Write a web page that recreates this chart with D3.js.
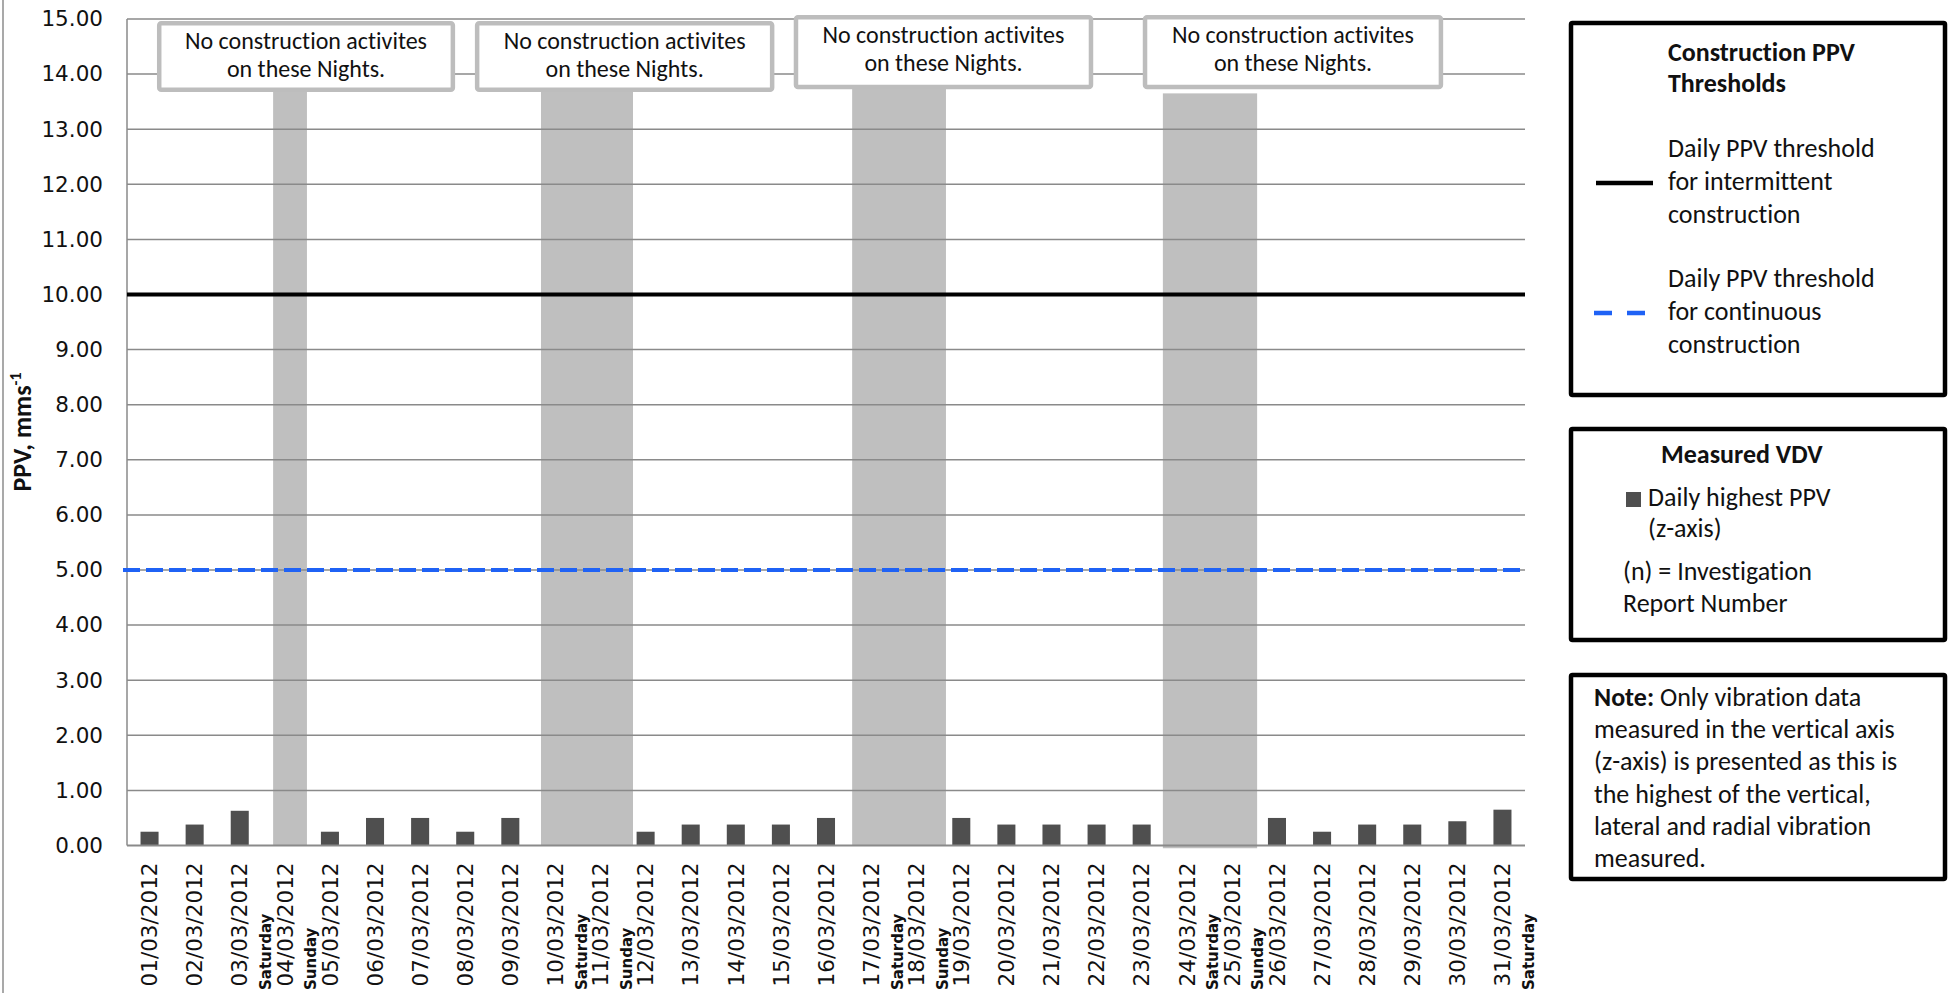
<!DOCTYPE html>
<html><head><meta charset="utf-8">
<script src="https://cdn.jsdelivr.net/npm/d3@7"></script>
<style>body{margin:0;background:#fff;overflow:hidden} text{font-variant-ligatures:none;font-feature-settings:"liga" 0,"clig" 0;}</style>
</head><body>
<script>
// ---------- DATA ----------
const categories = ["01/03/2012","02/03/2012","03/03/2012","04/03/2012","05/03/2012","06/03/2012","07/03/2012","08/03/2012","09/03/2012","10/03/2012","11/03/2012","12/03/2012","13/03/2012","14/03/2012","15/03/2012","16/03/2012","17/03/2012","18/03/2012","19/03/2012","20/03/2012","21/03/2012","22/03/2012","23/03/2012","24/03/2012","25/03/2012","26/03/2012","27/03/2012","28/03/2012","29/03/2012","30/03/2012","31/03/2012"];
const ppvValues = [0.25,0.38,0.63,null,0.25,0.5,0.5,0.25,0.5,null,null,0.25,0.38,0.38,0.38,0.5,null,null,0.5,0.38,0.38,0.38,0.38,null,null,0.5,0.25,0.38,0.38,0.44,0.65];
const dayLabelDates = ["03/03/2012","04/03/2012","10/03/2012","11/03/2012","17/03/2012","18/03/2012","24/03/2012","25/03/2012","31/03/2012"];
const dayLabelNames = ["Saturday","Sunday","Saturday","Sunday","Saturday","Sunday","Saturday","Sunday","Saturday"];
const yTickValues = [0,1,2,3,4,5,6,7,8,9,10,11,12,13,14,15];
const thresholdValues = [10, 5];
const thresholdNames = ["Daily PPV threshold for intermittent construction","Daily PPV threshold for continuous construction"];
// shaded "no construction" periods, in category-index units
const shadeStarts = [3.24, 9.18, 16.08, 22.97];
const shadeEnds = [3.99, 11.22, 18.16, 25.06];
const shadeTops = [13.7, 13.7, 13.75, 13.65];
const shadeBottoms = [0, 0, 0, -0.05];
// annotation boxes, in category-index / value units
const noteStarts = [0.67, 7.72, 14.79, 22.53];
const noteEnds = [7.27, 14.35, 21.42, 29.18];
const noteTops = [14.96, 14.96, 15.07, 15.07];
const noteBottoms = [13.68, 13.68, 13.73, 13.73];
const noteLines = ["No construction activites", "on these Nights."];

// ---------- LAYOUT ----------
const W = 1948, H = 993;
const plot = {left:127, right:1525, top:19, bottom:845.5};
const SANS = "Carlito, Calibri, Lato, sans-serif";
const TICKF = "'DejaVu Sans', Verdana, sans-serif";

const svg = d3.select("body").append("svg").attr("width", W).attr("height", H);

const y = d3.scaleLinear().domain([0, 15]).range([plot.bottom, plot.top]);
const x = d3.scaleBand().domain(categories).range([plot.left, plot.right]).paddingInner(0.6).paddingOuter(0.3);
const xi = d3.scaleLinear().domain([0, categories.length]).range([plot.left, plot.right]);

// outer chart border (left edge)
svg.append("line").attr("x1",3).attr("x2",3).attr("y1",0).attr("y2",H).attr("stroke","#8c8c8c").attr("stroke-width",1.5);

// shaded periods
svg.append("g").selectAll("rect").data(shadeStarts).join("rect")
  .attr("x", (d,i)=>xi(d))
  .attr("width", (d,i)=>xi(shadeEnds[i]) - xi(d))
  .attr("y", (d,i)=>y(shadeTops[i]))
  .attr("height", (d,i)=>y(shadeBottoms[i]) - y(shadeTops[i]))
  .attr("fill", "#bfbfbf");

// gridlines
svg.append("g").selectAll("line").data(yTickValues.filter(v=>v>0)).join("line")
  .attr("x1", plot.left).attr("x2", plot.right)
  .attr("y1", d=>y(d)).attr("y2", d=>y(d))
  .attr("stroke", "#8a8a8a").attr("stroke-width", 1.5);

// bars
svg.append("g").selectAll("rect").data(categories.map((c,i)=>({c, v: ppvValues[i]})).filter(d=>d.v!=null)).join("rect")
  .attr("x", d=>x(d.c)).attr("width", x.bandwidth())
  .attr("y", d=>y(d.v)).attr("height", d=>y(0)-y(d.v))
  .attr("fill", "#4f4f4f");

// axis lines
svg.append("line").attr("x1",plot.left).attr("x2",plot.left).attr("y1",y(15)).attr("y2",y(0)).attr("stroke","#8a8a8a").attr("stroke-width",1.5);
svg.append("line").attr("x1",plot.left).attr("x2",plot.right).attr("y1",y(0)).attr("y2",y(0)).attr("stroke","#8a8a8a").attr("stroke-width",2);

// y axis labels
const yAxis = svg.append("g").attr("transform", `translate(${plot.left},0)`)
  .call(d3.axisLeft(y).tickValues(yTickValues).tickFormat(d=>d.toFixed(2)).tickSize(0).tickPadding(24));
yAxis.select(".domain").remove();
yAxis.selectAll("text").attr("font-family", TICKF).attr("font-size", 21.5).attr("fill", "#111");

// x axis labels
const xAxis = svg.append("g").attr("transform", `translate(0,${plot.bottom})`)
  .call(d3.axisBottom(x).tickSize(0));
xAxis.select(".domain").remove();
xAxis.selectAll("text")
  .attr("font-family", TICKF).attr("font-size", 21.5).attr("fill", "#111")
  .attr("transform", "rotate(-90)").attr("text-anchor", "end")
  .attr("x", -17).attr("y", 0).attr("dy", "0.36em");

// day names (second label line)
svg.append("g").selectAll("text").data(dayLabelDates).join("text")
  .attr("transform", (d,i)=>`translate(${x(d)+x.bandwidth()/2+26},${H-3}) rotate(-90)`)
  .attr("text-anchor","start").attr("dy","0.36em")
  .attr("font-family", TICKF).attr("font-weight","bold").attr("font-size",15).attr("fill","#111")
  .text((d,i)=>dayLabelNames[i]);

// threshold lines
svg.append("line").attr("x1",plot.left).attr("x2",plot.right).attr("y1",y(thresholdValues[0])).attr("y2",y(thresholdValues[0]))
  .attr("stroke","#000").attr("stroke-width",4);
svg.append("line").attr("x1",plot.left-4).attr("x2",plot.right).attr("y1",y(thresholdValues[1])).attr("y2",y(thresholdValues[1]))
  .attr("stroke","#1f62f5").attr("stroke-width",4).attr("stroke-dasharray","17,6");

// annotation boxes
const notes = svg.append("g").selectAll("g").data(noteStarts).join("g");
notes.append("rect")
  .attr("x",(d,i)=>xi(d)+2).attr("y",(d,i)=>y(noteTops[i])+2)
  .attr("width",(d,i)=>xi(noteEnds[i])-xi(d)-4).attr("height",(d,i)=>y(noteBottoms[i])-y(noteTops[i])-4)
  .attr("rx",2).attr("fill","#fff").attr("stroke","#bdbdbd").attr("stroke-width",4.5);
notes.each(function(d,i){
  const g = d3.select(this);
  const cx = (xi(d)+xi(noteEnds[i]))/2;
  noteLines.forEach((t,k)=>{
    g.append("text").attr("x",cx).attr("y", y(noteTops[i]) + 28 + k*28)
      .attr("text-anchor","middle").attr("font-family",SANS).attr("font-size",24).attr("fill","#111").text(t);
  });
});

// y axis title
svg.append("text").attr("transform","translate(31,432) rotate(-90)").attr("text-anchor","middle")
  .attr("font-family",SANS).attr("font-weight","bold").attr("font-size",26).attr("fill","#111")
  .call(t=>{ t.append("tspan").text("PPV, mms"); t.append("tspan").attr("font-size",16).attr("dy",-10).text("-1"); });

// ---------- LEGENDS ----------
const lg = svg.append("g");
function box(x0,y0,x1,y1){ lg.append("rect").attr("x",x0).attr("y",y0).attr("width",x1-x0).attr("height",y1-y0).attr("fill","#fff").attr("stroke","#000").attr("stroke-width",4.5).attr("rx",1.5); }
function txt(x0,y0,s,opts={}){ return lg.append("text").attr("x",x0).attr("y",y0).attr("font-family",SANS).attr("font-size",opts.size||26).attr("font-weight",opts.bold?"bold":"normal").attr("fill","#111").text(s); }

box(1571,23,1945,395);
txt(1668,61,"Construction PPV",{bold:true});
txt(1668,92,"Thresholds",{bold:true});
lg.append("line").attr("x1",1596).attr("x2",1653).attr("y1",183).attr("y2",183).attr("stroke","#000").attr("stroke-width",4.5);
["Daily PPV threshold","for intermittent","construction"].forEach((s,k)=>txt(1668,157+k*33,s));
lg.append("line").attr("x1",1594).attr("x2",1646).attr("y1",313).attr("y2",313).attr("stroke","#1f62f5").attr("stroke-width",4.5).attr("stroke-dasharray","18,15");
["Daily PPV threshold","for continuous","construction"].forEach((s,k)=>txt(1668,287+k*33,s));

box(1571,429,1945,640);
txt(1661,463,"Measured VDV",{bold:true});
lg.append("rect").attr("x",1626).attr("y",492).attr("width",15).attr("height",15).attr("fill","#4f4f4f");
txt(1648,506,"Daily highest PPV");
txt(1648,537,"(z-axis)");
txt(1623,580,"(n) = Investigation");
txt(1623,612,"Report Number");

box(1571,675,1945,879);
const nt = txt(1594,706,"");
nt.append("tspan").attr("font-weight","bold").text("Note:");
nt.append("tspan").text(" Only vibration data");
["measured in the vertical axis","(z-axis) is presented as this is","the highest of the vertical,","lateral and radial vibration","measured."].forEach((s,k)=>txt(1594,738+k*32.3,s));
</script>
</body></html>
